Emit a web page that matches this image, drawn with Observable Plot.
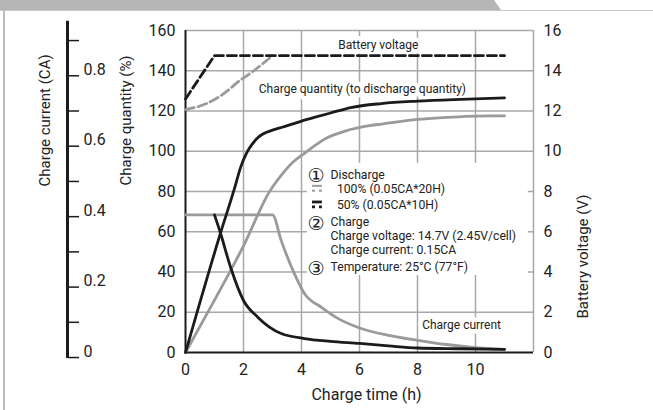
<!DOCTYPE html>
<html><head><meta charset="utf-8">
<script src="https://cdn.jsdelivr.net/npm/d3@7"></script>
<script src="https://cdn.jsdelivr.net/npm/@observablehq/plot@0.6"></script>
<style>
body{margin:0;background:#fff;font-family:Roboto,sans-serif;}
#wrap{position:relative;width:653px;height:410px;overflow:hidden;}
#bar{position:absolute;left:0;top:0;width:503px;height:10px;background:#b5b5b5;clip-path:polygon(0 0,494px 0,501px 10px,0 10px);}
#hline{position:absolute;left:0;top:10px;width:653px;height:1px;background:#c9c9c9;}
#lborder{position:absolute;left:3px;top:10px;width:1.5px;height:400px;background:#bdbdbd;}
</style></head>
<body><div id="wrap"><div id="chart"></div><div id="bar"></div><div id="hline"></div><div id="lborder"></div></div>
<script>
// ---------- data ----------
const timeTicks = [0, 2, 4, 6, 8, 10];
const qtyTicks = [0, 20, 40, 60, 80, 100, 120, 140, 160];
const voltTicks = [0, 2, 4, 6, 8, 10, 12, 14, 16];
const caTicks = [0, 0.1, 0.2, 0.3, 0.4, 0.5, 0.6, 0.7, 0.8, 0.9];
const caLabels = [0, 0.2, 0.4, 0.6, 0.8];

// Battery voltage (V)
const hoursVolt50 = [0, 1, 11];
const voltage50 = [12.6, 14.75, 14.75];
const hoursVolt100 = [0, 0.5, 1, 1.4, 1.8, 2.4, 3];
const voltage100 = [12.07, 12.25, 12.57, 12.95, 13.43, 14.05, 14.75];

// Charge quantity (%)
const hoursQty50 = [0, 1.2, 1.7, 1.9, 2.1, 2.3, 2.5, 3, 3.3, 4, 4.44, 5, 5.7, 6.76, 8, 9.5, 11];
const qty50 = [0, 59, 82, 92, 99, 103.5, 106.8, 110.5, 111.8, 115, 116.8, 119, 121.7, 123.7, 124.9, 125.8, 126.5];
const hoursQty100 = [0, 1, 2, 2.9, 3.3, 3.7, 4.1, 4.9, 5.5, 6.4, 6.76, 8, 9, 10, 11];
const qty100 = [0, 26, 53, 80, 88, 94.5, 99, 106.8, 110, 112.8, 113.5, 115.8, 116.8, 117.5, 117.6];

// Charge current (CA)
const hoursCur50 = [1, 1.2, 1.56, 2.0, 2.5, 3.3, 4.1, 5, 6, 7, 8, 9.5, 11];
const current50 = [0.405, 0.355, 0.255, 0.162, 0.114, 0.068, 0.054, 0.046, 0.040, 0.033, 0.027, 0.025, 0.023];
const hoursCur100 = [0, 3.0, 3.3, 3.75, 4.1, 4.7, 5.3, 6, 7, 8, 9, 9.9, 11];
const current100 = [0.405, 0.405, 0.332, 0.239, 0.182, 0.142, 0.109, 0.084, 0.063, 0.049, 0.037, 0.029, 0.023];

// annotation texts
const curveLabels = ["Battery voltage", "Charge quantity (to discharge quantity)", "Charge current"];
const noteNumbers = ["\u2460", "\u2461", "\u2462"];
const noteHeads = ["Discharge", "Charge", "Temperature: 25°C (77°F)"];
const noteDetails = ["Charge voltage: 14.7V (2.45V/cell)", "Charge current: 0.15CA"];
const legendItems = ["100% (0.05CA*20H)", "50% (0.05CA*10H)"];

// ---------- helpers ----------
const caToPct = v => v * 175 - 2.5;   // the CA axis alongside the % axis
const pctToCa = p => (p + 2.5) / 175;
const zip = (xs, ys, f = d => d) => xs.map((x, i) => ({x, y: f(ys[i])}));

const BLACK = "#1b1b1b", GRAY = "#9a9a9a", GRID = "#a8a8a8";
const FONT = "Roboto, sans-serif";

const curveLabelPos = [{x: 6.65, y: 152.5}, {x: 6.1, y: 131}, {x: 9.52, y: 13.4}];
const curveLabelRows = curveLabels.map((t, i) => ({t, ...curveLabelPos[i]}));
const numberRows = noteNumbers.map((t, i) => ({t, x: 4.5, y: [88.4, 64.6, 42.2][i]}));
const headRows = noteHeads.map((t, i) => ({t, x: 5.0, y: [88.4, 64.6, 42.2][i]}));
const detailRows = noteDetails.map((t, i) => ({t, x: 5.0, y: [57.8, 50.9][i]}));
const legendRows = legendItems.map((t, i) => ({t, x: 5.22, y: [81.0, 73.0][i], c: [GRAY, BLACK][i], w: [2, 2.8][i]}));

const chart = Plot.plot({
  width: 653,
  height: 410,
  marginLeft: 185,
  marginRight: 120,
  marginTop: 30,
  marginBottom: 58,
  style: {fontFamily: FONT, color: "#222", background: "transparent"},
  x: {domain: [0, 12], label: null},
  y: {domain: [0, 160], label: null},
  marks: [
    // grid
    Plot.ruleY(qtyTicks.filter(d => d > 0), {stroke: GRID, strokeWidth: 1.5}),
    Plot.ruleX([2, 4, 6, 8, 10, 12], {stroke: GRID, strokeWidth: 1.5}),
    // white box behind the notes
    Plot.rect([0], {x1: 4.2, x2: 11.82, y1: 38.3, y2: 94, fill: "white"}),
    // frame (left & bottom)
    Plot.ruleX([0], {stroke: BLACK, strokeWidth: 2}),
    Plot.ruleY([0], {stroke: BLACK, strokeWidth: 2}),
    // curve labels with white halo
    Plot.text(curveLabelRows, {x: "x", y: "y", text: "t", fontSize: 12, fill: "#222",
      stroke: "white", strokeWidth: 9, strokeLinejoin: "round"}),
    // gray series
    Plot.line(zip(hoursVolt100, voltage100, v => v * 10), {x: "x", y: "y", stroke: GRAY, strokeWidth: 2.8, strokeDasharray: "9,4", curve: "monotone-x"}),
    Plot.line(zip(hoursQty100, qty100), {x: "x", y: "y", stroke: GRAY, strokeWidth: 2.8, curve: "monotone-x"}),
    Plot.line(zip(hoursCur100, current100, caToPct), {x: "x", y: "y", stroke: GRAY, strokeWidth: 2.8, curve: "monotone-x"}),
    // black series
    Plot.line(zip(hoursVolt50, voltage50, v => v * 10), {x: "x", y: "y", stroke: BLACK, strokeWidth: 2.8, strokeDasharray: "9,4"}),
    Plot.line(zip(hoursQty50, qty50), {x: "x", y: "y", stroke: BLACK, strokeWidth: 2.8, curve: "monotone-x"}),
    Plot.line(zip(hoursCur50, current50, caToPct), {x: "x", y: "y", stroke: BLACK, strokeWidth: 2.8, curve: "monotone-x"}),
    // notes
    Plot.text(numberRows, {x: "x", y: "y", text: "t", fontSize: 19, fontFamily: "DejaVu Sans", fill: "#222", dy: 1}),
    Plot.text(headRows, {x: "x", y: "y", text: "t", fontSize: 12.2, textAnchor: "start", fill: "#222"}),
    Plot.text(detailRows, {x: "x", y: "y", text: "t", fontSize: 12.2, textAnchor: "start", fill: "#222"}),
    Plot.text(legendRows, {x: "x", y: "y", text: "t", fontSize: 12.2, textAnchor: "start", fill: "#222"}),
    // legend symbols: solid bar over a broken bar
    Plot.ruleY(legendRows, {x1: 4.38, x2: 4.72, y: d => d.y + 1.8, stroke: "c", strokeWidth: "w"}),
    Plot.ruleY(legendRows, {x1: 4.38, x2: 4.72, y: d => d.y - 0.6, stroke: "c", strokeWidth: "w", strokeDasharray: "3,4"}),
    // axes
    Plot.axisX(timeTicks, {tickSize: 0, tickPadding: 11, fontSize: 16, label: null}),
    Plot.text(["Charge time (h)"], {frameAnchor: "bottom", dx: 7, dy: 47, fontSize: 16}),
    Plot.axisY(qtyTicks, {anchor: "left", tickSize: 0, tickPadding: 10, fontSize: 16, label: null}),
    Plot.text(["Charge quantity (%)"], {frameAnchor: "left", dx: -59, dy: -6, rotate: -90, fontSize: 15}),
    Plot.axisY(voltTicks.map(v => v * 10), {anchor: "right", tickSize: 0, tickPadding: 10, fontSize: 16, label: null, tickFormat: d => d / 10}),
    Plot.text(["Battery voltage (V)"], {frameAnchor: "right", dx: 50, dy: 3, rotate: -90, fontSize: 15}),
    // charge current (CA) axis, drawn left of the % axis
    Plot.ruleX([0], {y1: caToPct(0) - 0.5, y2: caToPct(0.955), dx: -118, stroke: BLACK, strokeWidth: 3}),
    Plot.axisY(caTicks.map(caToPct), {anchor: "right", dx: -466, tickSize: 11, stroke: BLACK, strokeWidth: 1.5, tickFormat: () => "", label: null}),
    Plot.axisY(caLabels.map(caToPct), {anchor: "right", dx: -466, dy: -6, tickSize: 0, tickPadding: 16, fontSize: 16, label: null,
      tickFormat: d => { const v = Math.round(pctToCa(d) * 10) / 10; return v === 0 ? "0" : v.toFixed(1); }}),
    Plot.text(["Charge current (CA)"], {frameAnchor: "left", dx: -140, dy: -5, rotate: -90, fontSize: 15})
  ]
});
document.getElementById("chart").appendChild(chart);
</script>
</body></html>
